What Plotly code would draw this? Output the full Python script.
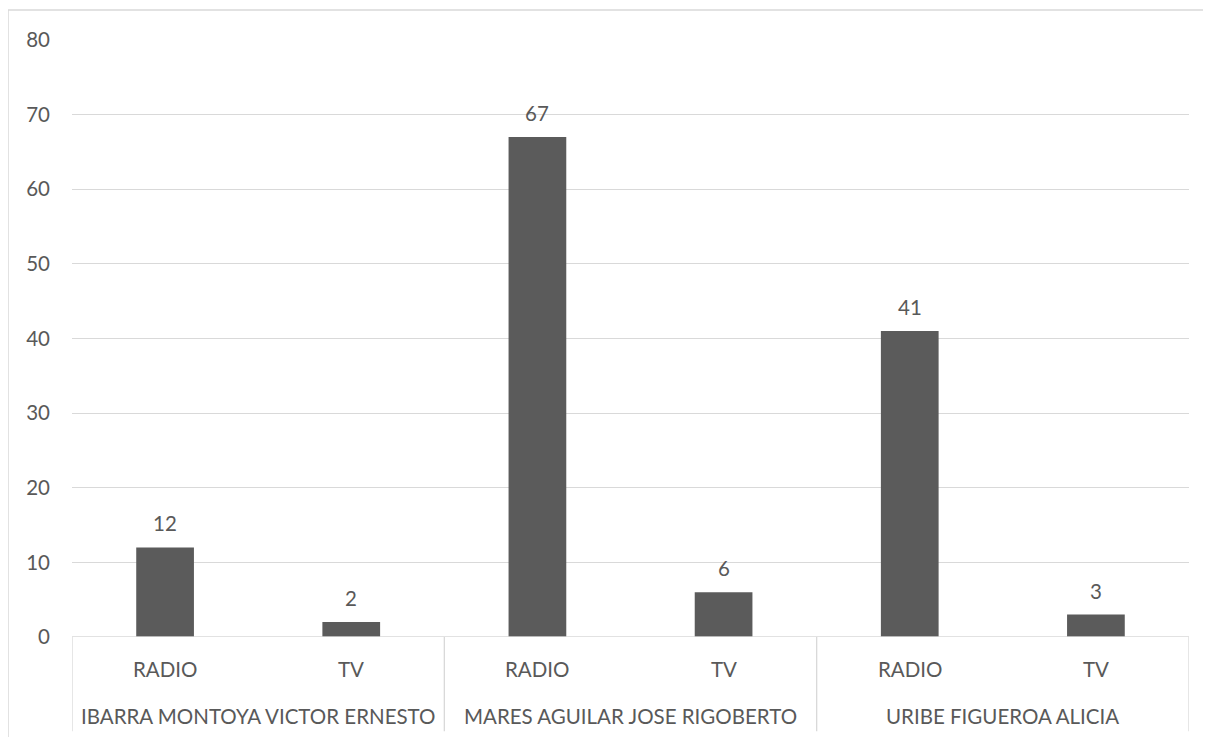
import plotly.graph_objects as go

groups = ["IBARRA MONTOYA VICTOR ERNESTO", "MARES AGUILAR JOSE RIGOBERTO", "URIBE FIGUEROA ALICIA"]
media = ["RADIO", "TV"]
values = [12, 2, 67, 6, 41, 3]
y_ticks = [0, 10, 20, 30, 40, 50, 60, 70, 80]

FONT = "Lato"
FS = 20.5
TXT = "#595959"
GRID = "#d9d9d9"

n = len(values)
xs = list(range(n))
sub_labels = [m for g in groups for m in media]

fig = go.Figure()
fig.add_trace(go.Bar(x=xs, y=values, width=0.31, marker=dict(color="#5b5b5b", line=dict(width=0)),
                     hoverinfo="skip"))

annotations = []
for x, v in zip(xs, values):
    annotations.append(dict(x=x, y=v, xref="x", yref="y", text=str(v), showarrow=False,
                            yanchor="bottom", yshift=10, font=dict(family=FONT, size=FS, color=TXT)))
for x, lab in zip(xs, sub_labels):
    annotations.append(dict(x=x, y=0, xref="x", yref="paper", text=lab, showarrow=False,
                            yanchor="middle", yshift=-32, font=dict(family=FONT, size=FS, color=TXT)))
for i, g in enumerate(groups):
    cx = i * len(media) + (len(media) - 1) / 2
    annotations.append(dict(x=cx, y=0, xref="x", yref="paper", text=g, showarrow=False,
                            yanchor="middle", yshift=-79, font=dict(family=FONT, size=FS, color=TXT)))

shapes = []
# axis line at zero
shapes.append(dict(type="line", xref="paper", yref="y", x0=0, x1=1, y0=0, y1=0,
                   line=dict(color=GRID, width=1.3)))
# group dividers
for i in range(len(groups) + 1):
    bx = i * len(media) - 0.5
    shapes.append(dict(type="line", xref="x", yref="paper", x0=bx, x1=bx, y0=0, y1=-0.158,
                       line=dict(color=GRID, width=1.3)))
# outer chart border (cropped)
shapes.append(dict(type="path", xref="paper", yref="paper",
                   path="M -0.0573,-0.2 L -0.0573,1.0503 L 1.05,1.0503",
                   line=dict(color=GRID, width=1.5)))

fig.update_layout(
    width=1211, height=737,
    margin=dict(l=64, r=30, t=32, b=108),
    paper_bgcolor="white", plot_bgcolor="white",
    showlegend=False,
    xaxis=dict(range=[-0.5, n - 0.5], showgrid=False, zeroline=False, showticklabels=False,
               showline=False, ticks=""),
    yaxis=dict(range=[0, 80], tickvals=y_ticks, showgrid=True, gridcolor=GRID, gridwidth=1.3,
               zeroline=False, showline=False, ticks="", ticklabelstandoff=21,
               tickfont=dict(family=FONT, size=FS, color=TXT)),
    annotations=annotations,
    shapes=shapes,
)

fig.write_html("out.html")
